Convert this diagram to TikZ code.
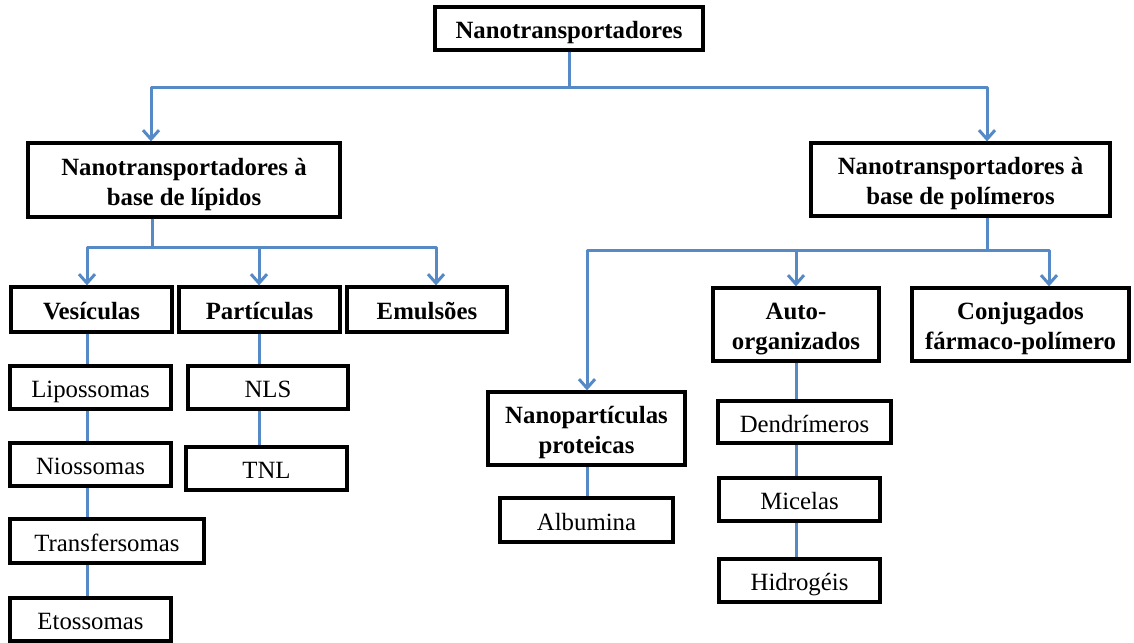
\documentclass[tikz,border=0pt]{standalone}
\usepackage{fontspec}
\setmainfont{Liberation Serif}
\usetikzlibrary{arrows.meta}
\definecolor{linkblue}{RGB}{86,138,198}
\tikzset{
  box/.style={draw=black, line width=1.6pt, inner sep=0pt, align=center,
    text height=12pt, text depth=2pt,
    font=\fontsize{12.4}{15}\selectfont},
  bbox/.style={box, font=\fontsize{12.4}{15}\selectfont\bfseries},
  twoline/.style={text height=29pt, text depth=4pt},
  link/.style={draw=linkblue, line width=1.5pt, line join=round},
  arr/.style={link, -{Straight Barb[length=4.5pt,width=8pt]}}
}
\begin{document}
\begin{tikzpicture}[x=0.5pt,y=-0.5pt]
\useasboundingbox (0,0) rectangle (1134,642);
% column and row helpers
\coordinate (cA) at (151,0);
\coordinate (cB) at (987,0);
\coordinate (cL) at (152,0);
\coordinate (cV) at (87,0);
\coordinate (cP) at (259,0);
\coordinate (cE) at (436,0);
\coordinate (cN) at (587,0);
\coordinate (cO) at (796,0);
\coordinate (cC) at (1049,0);
\coordinate (r0) at (0,88);
\coordinate (r1) at (0,247);
\coordinate (r2) at (0,250);
% nodes
\node[bbox, minimum width=134pt, minimum height=21.5pt] (top) at (569,28.5) {Nanotransportadores};
\node[bbox, twoline, minimum width=156pt, minimum height=37pt] (lip) at (184,180) {Nanotransportadores à\\base de lípidos};
\node[bbox, twoline, minimum width=149.5pt, minimum height=36.5pt] (pol) at (960.5,179.5) {Nanotransportadores à\\base de polímeros};
\node[bbox, minimum width=80.5pt, minimum height=22.5pt] (ves) at (91.5,309.5) {Vesículas};
\node[bbox, minimum width=80.5pt, minimum height=22.5pt] (par) at (259.5,309.5) {Partículas};
\node[bbox, minimum width=80pt, minimum height=22.5pt] (emu) at (427,309.5) {Emulsões};
\node[box, minimum width=80.5pt, minimum height=21.5pt] (lipo) at (90.5,387.5) {Lipossomas};
\node[box, minimum width=80.5pt, minimum height=21.5pt] (nio) at (90.5,464.5) {Niossomas};
\node[box, minimum width=97pt, minimum height=22pt] (tra) at (107,541) {Transfersomas};
\node[box, minimum width=80.5pt, minimum height=21.5pt] (eto) at (90.5,619.5) {Etossomas};
\node[box, minimum width=80pt, minimum height=21.5pt] (nls) at (268,387.5) {NLS};
\node[box, minimum width=80.5pt, minimum height=21.5pt] (tnl) at (266.5,468.5) {TNL};
\node[bbox, twoline, minimum width=83pt, minimum height=36.5pt] (auto) at (796,324.5) {Auto-\\organizados};
\node[bbox, twoline, minimum width=108.5pt, minimum height=36.5pt] (conj) at (1020.5,324.5) {Conjugados\\fármaco-polímero};
\node[bbox, twoline, minimum width=98.5pt, minimum height=36.5pt] (np) at (586.5,428.5) {Nanopartículas\\proteicas};
\node[box, minimum width=86.5pt, minimum height=22pt] (alb) at (586.5,520) {Albumina};
\node[box, minimum width=86.5pt, minimum height=21pt] (den) at (804.5,422) {Dendrímeros};
\node[box, minimum width=80.5pt, minimum height=21.5pt] (mic) at (799.5,499.5) {Micelas};
\node[box, minimum width=80.5pt, minimum height=21.5pt] (hid) at (799.5,580.5) {Hidrogéis};
% first level
\draw[arr] (top.south) |- (r0 -| cA) -- (lip.north -| cA);
\draw[arr] (top.south) |- (r0 -| cB) -- (pol.north -| cB);
% lipid branch
\draw[arr] (lip.south -| cL) |- (r1 -| cV) -- (ves.north -| cV);
\draw[arr] (lip.south -| cL) |- (r1 -| cP) -- (par.north -| cP);
\draw[arr] (lip.south -| cL) |- (r1 -| cE) -- (emu.north -| cE);
\draw[link] (ves.south -| cV) -- (lipo.north -| cV);
\draw[link] (lipo.south -| cV) -- (nio.north -| cV);
\draw[link] (nio.south -| cV) -- (tra.north -| cV);
\draw[link] (tra.south -| cV) -- (eto.north -| cV);
\draw[link] (par.south -| cP) -- (nls.north -| cP);
\draw[link] (nls.south -| cP) -- (tnl.north -| cP);
% polymer branch
\draw[arr] (pol.south -| cB) |- (r2 -| cN) -- (np.north -| cN);
\draw[arr] (pol.south -| cB) |- (r2 -| cO) -- (auto.north -| cO);
\draw[arr] (pol.south -| cB) |- (r2 -| cC) -- (conj.north -| cC);
\draw[link] (np.south -| cN) -- (alb.north -| cN);
\draw[link] (auto.south -| cO) -- (den.north -| cO);
\draw[link] (den.south -| cO) -- (mic.north -| cO);
\draw[link] (mic.south -| cO) -- (hid.north -| cO);
\end{tikzpicture}
\end{document}
